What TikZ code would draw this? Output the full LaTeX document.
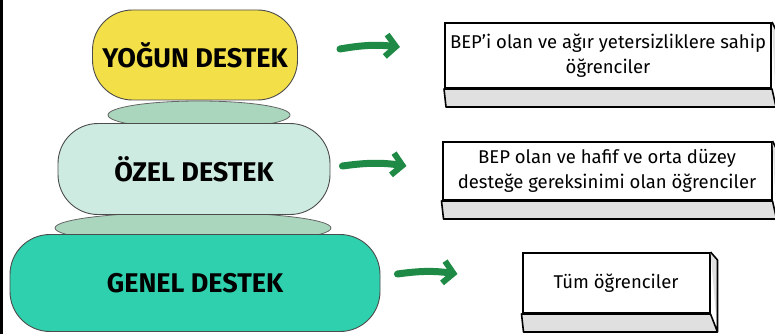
\documentclass[tikz,border=0pt]{standalone}
\usepackage{fontspec}
\setmainfont{Fira Sans}
\usepackage{xcolor}
\usetikzlibrary{calc,arrows.meta}

\definecolor{yogun}{HTML}{F3DF47}
\definecolor{ozel}{HTML}{CDEBE0}
\definecolor{genel}{HTML}{2FD0AE}
\definecolor{tas}{HTML}{A9D6BC}
\definecolor{ok}{HTML}{1E8A45}

\begin{document}
\begin{tikzpicture}[x=1pt,y=-1pt,
    pill/.style={draw=black!70,line width=0.9pt,rounded corners=40pt,
        font=\fontsize{27}{30}\selectfont\bfseries,inner sep=0pt},
    stone/.style={draw=black!60,line width=0.8pt,fill=tas},
    infobox/.style={draw,line width=2pt,fill=white,align=center,inner sep=0pt,
        font=\fontsize{18.5}{25}\selectfont},
    shelf/.style={draw,line width=1.6pt,fill=black!12,line join=round},
    okarrow/.style={draw=ok,line cap=round,
        -{Straight Barb[length=10pt,width=22pt,line width=6pt]}}]
    \useasboundingbox (0,0) rectangle (775,334);
    \fill[white] (0,0) rectangle (775,334);
    \fill[black] (0,0) rectangle (3,334); %left border

    % stones under the pills
    \draw[stone] (199,115) ellipse (91 and 14);
    \draw[stone] (193,228) ellipse (138 and 16);

    % the three pills
    \node[pill,fill=yogun,minimum width=205pt,minimum height=90pt] (yogun) at (195,55) {YOĞUN DESTEK};
    \node[pill,fill=ozel,minimum width=272pt,minimum height=91pt] (ozel) at (194,169) {ÖZEL DESTEK};
    \node[pill,fill=genel,minimum width=370pt,minimum height=97pt] (genel) at (195,283) {GENEL DESTEK};

    % boxes on the right
    \node[infobox,minimum width=326pt,minimum height=65pt] (bep1) at (608,55.5)
        {BEP'i olan ve ağır yetersizliklere sahip\\öğrenciler};
    \node[infobox,minimum width=329pt,minimum height=58pt] (bep2) at (607,171)
        {BEP olan ve hafif ve orta düzey\\desteğe gereksinimi olan öğrenciler};
    \node[infobox,minimum width=187pt,minimum height=60pt] (tum) at (616,283)
        {Tüm öğrenciler};

    % bottom and side faces of the boxes
    \foreach \b/\e in {bep1/4,bep2/4,tum/7}
    {
        \draw[shelf] (\b.north east) -- ++(\e,8) -- ($(\b.south east)+(\e,18)$)
            -- ($(\b.south west)+(2,18)$) -- (\b.south west) -- (\b.south east)
            -- ($(\b.south east)+(\e,18)$);
    }

    % arrows
    \draw[okarrow,line width=7pt] ([yshift=6pt]yogun.east) ++(42,0) to[bend left=8] ++(60,-2);
    \draw[okarrow,line width=7pt] ([yshift=3pt]ozel.east) ++(12,0) to[bend left=8] ++(64,0);
    \draw[okarrow,line width=7pt] ([yshift=9pt]genel.east) ++(17,0) to[bend left=8] ++(60,0);
\end{tikzpicture}
\end{document}
